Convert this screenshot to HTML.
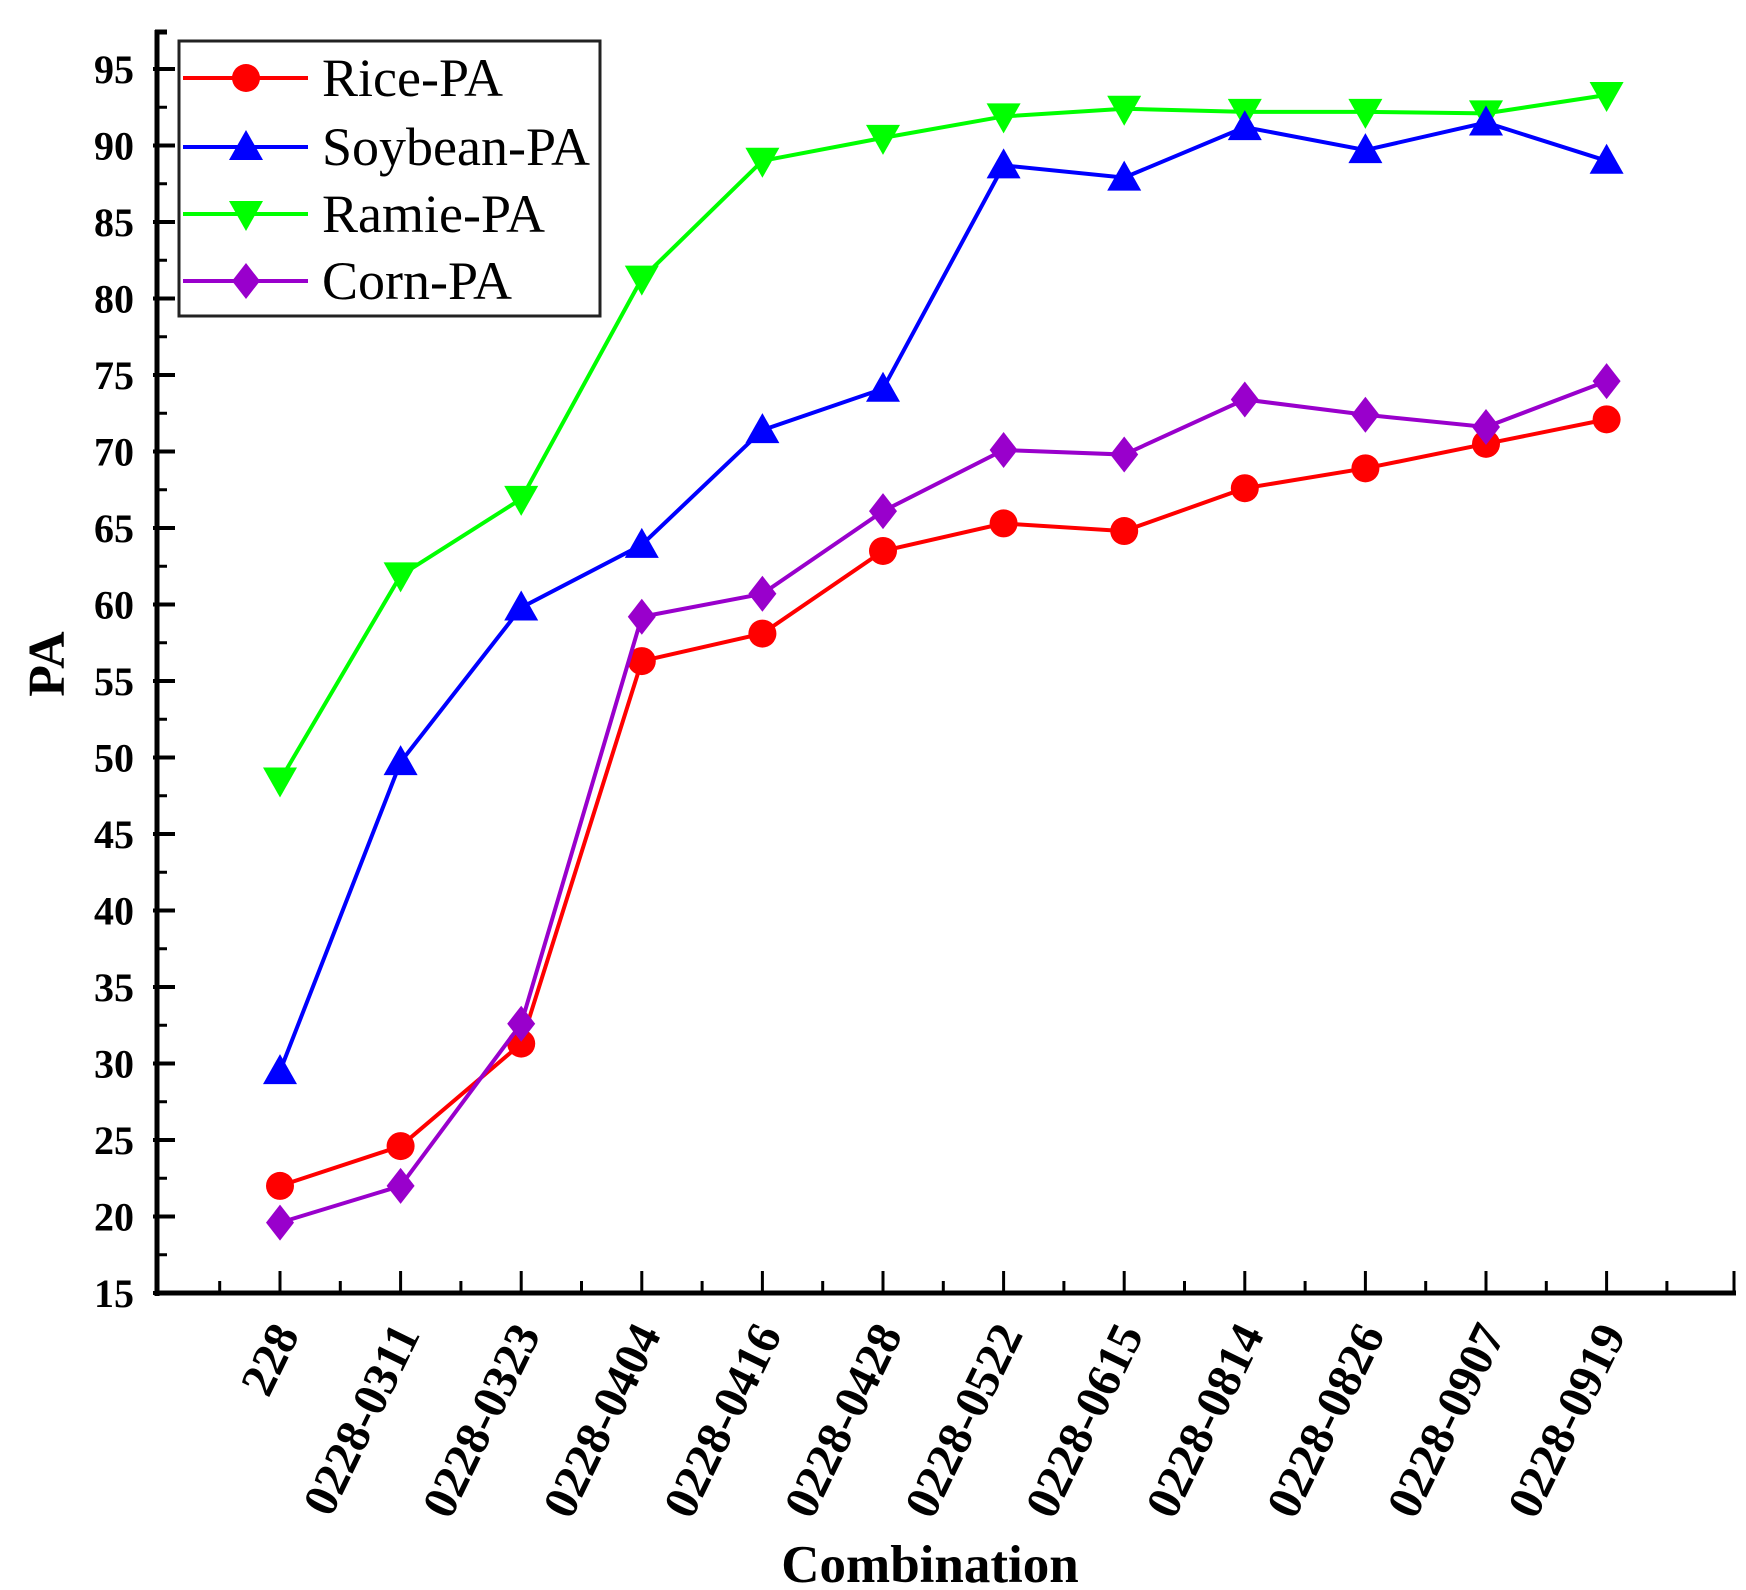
<!DOCTYPE html>
<html><head><meta charset="utf-8"><style>
body{margin:0;background:#fff}
svg{display:block}
text{font-family:"Liberation Serif",serif}
</style></head><body>
<svg id="chart" width="1746" height="1590" viewBox="0 0 1746 1590" xmlns="http://www.w3.org/2000/svg"></svg>
<script>
const categories = ["228","0228-0311","0228-0323","0228-0404","0228-0416","0228-0428","0228-0522","0228-0615","0228-0814","0228-0826","0228-0907","0228-0919"];
const riceValues = [22.0,24.6,31.3,56.3,58.1,63.5,65.3,64.8,67.6,68.9,70.5,72.1];
const soybeanValues = [29.5,49.7,59.8,63.9,71.4,74.1,88.7,87.9,91.2,89.7,91.5,89.0];
const ramieValues = [48.5,61.9,66.9,81.3,89.0,90.5,91.9,92.4,92.2,92.2,92.1,93.3];
const cornValues = [19.6,22.0,32.6,59.2,60.7,66.1,70.1,69.8,73.4,72.4,71.6,74.6];
const yTicks = [15,20,25,30,35,40,45,50,55,60,65,70,75,80,85,90,95];

const NS="http://www.w3.org/2000/svg";
const svg=document.getElementById('chart');
const X0=157, X1=1736, Y0=1293, YTOP=30;
const xFirst=280, xStep=120.6;
function xs(i){return xFirst+i*xStep;}
function ys(v){return Y0-(v-15)*(1293-69)/80;}
function el(tag,attrs,parent){const e=document.createElementNS(NS,tag);for(const k in attrs)e.setAttribute(k,attrs[k]);(parent||svg).appendChild(e);return e;}

const axes=el('g',{});


el('line',{x1:X0,y1:YTOP,x2:X0,y2:Y0+3,stroke:'#000','stroke-width':5},axes);
el('line',{x1:X0-2,y1:Y0,x2:X1,y2:Y0,stroke:'#000','stroke-width':5},axes);
el('line',{x1:X0-2,y1:YTOP+2,x2:X0+10,y2:YTOP+2,stroke:'#000','stroke-width':5},axes);
yTicks.forEach((v,i)=>{
  const y=ys(v);
  el('line',{x1:X0-4,y1:y,x2:X0+18,y2:y,stroke:'#000','stroke-width':4},axes);
  if(i<yTicks.length-1){const ym=ys(v+2.5);el('line',{x1:X0,y1:ym,x2:X0+10,y2:ym,stroke:'#000','stroke-width':3},axes);}
  const t=el('text',{x:134,y:y+14,'text-anchor':'end','font-size':40,'font-weight':'bold'});
  t.textContent=v;
  
  
});
for(let i=-1;i<=categories.length;i++){
  const x=xs(i);
  if(i>=0&&i<categories.length){el('line',{x1:x,y1:Y0,x2:x,y2:Y0-22,stroke:'#000','stroke-width':3},axes);}
  const xm=x+xStep/2;
  if(xm>X0&&xm<X1) el('line',{x1:xm,y1:Y0,x2:xm,y2:Y0-12,stroke:'#000','stroke-width':3},axes);
}
el('line',{x1:X1-2,y1:Y0,x2:X1-2,y2:Y0-22,stroke:'#000','stroke-width':3},axes);
categories.forEach((c,i)=>{
  const x=xs(i)+20, y=1334;
  const t=el('text',{x:x,y:y,'text-anchor':'end','font-size':48,'font-weight':'bold',transform:`rotate(-64 ${x} ${y})`});
  t.textContent=c;
  
  
});
const yt=el('text',{x:64,y:664,'text-anchor':'middle','font-size':52,'font-weight':'bold',transform:'rotate(-90 64 664)'});
yt.textContent='PA';


const xt=el('text',{x:930,y:1582,'text-anchor':'middle','font-size':53,'font-weight':'bold'});
xt.textContent='Combination';



function marker(g,type,x,y,color){
  const r=14;
  if(type==='circle') return el('circle',{cx:x,cy:y,r:r,fill:color},g);
  if(type==='up') return el('polygon',{points:`${x},${y-r-3} ${x-r-3},${y+r-1} ${x+r+3},${y+r-1}`,fill:color},g);
  if(type==='down') return el('polygon',{points:`${x},${y+r+3} ${x-r-3},${y-r+1} ${x+r+3},${y-r+1}`,fill:color},g);
  return el('polygon',{points:`${x},${y-r-4} ${x+r},${y} ${x},${y+r+4} ${x-r},${y}`,fill:color},g);
}
const series=[
  {name:'Rice-PA',vals:riceValues,color:'#ff0000',m:'circle',key:'rice'},
  {name:'Soybean-PA',vals:soybeanValues,color:'#0000ff',m:'up',key:'soybean'},
  {name:'Ramie-PA',vals:ramieValues,color:'#00ff00',m:'down',key:'ramie'},
  {name:'Corn-PA',vals:cornValues,color:'#9900cc',m:'diamond',key:'corn'}
];
[series[2],series[1],series[0],series[3]].forEach(s=>{
  const g=el('g',{});
  
  
  const pts=s.vals.map((v,i)=>xs(i)+','+ys(v)).join(' ');
  const pl=el('polyline',{points:pts,fill:'none',stroke:s.color,'stroke-width':4},g);
  
  
  s.vals.forEach((v,i)=>{
    const mk=marker(g,s.m,xs(i),ys(v),s.color);
    
    
  });
});
const lg=el('g',{});


el('rect',{x:179,y:41,width:421,height:275,fill:'#fff',stroke:'#222','stroke-width':3},lg);
const rowsY=[78,147,214,281];
series.forEach((s,i)=>{
  const y=rowsY[i];
  const e=el('g',{},lg);
  
  
  el('line',{x1:183,y1:y,x2:308,y2:y,stroke:s.color,'stroke-width':4},e);
  marker(e,s.m,246,y,s.color);
  const t=el('text',{x:322,y:y+18,'font-size':54},e);
  t.textContent=s.name;
});
</script>
</body></html>
